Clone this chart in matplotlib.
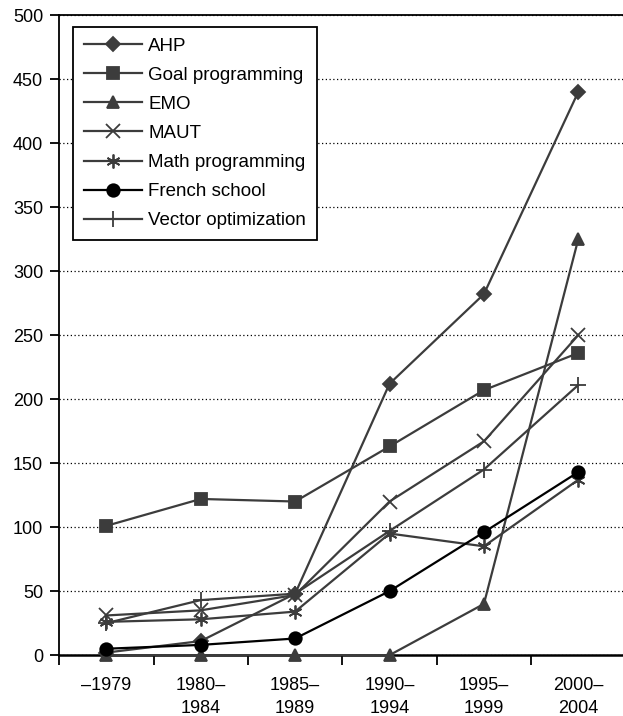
import numpy as np
import matplotlib.pyplot as plt

plt.rcParams['font.family'] = ['Liberation Sans', 'DejaVu Sans']

# Categories (periods)
periods = ['\u20131979', '1980\u2013\n1984', '1985\u2013\n1989', '1990\u2013\n1994', '1995\u2013\n1999', '2000\u2013\n2004']

# Series values
ahp = [2, 11, 48, 212, 282, 440]
goal = [101, 122, 120, 163, 207, 236]
emo = [0, 0, 0, 0, 40, 325]
maut = [31, 35, 47, 120, 167, 250]
math_prog = [26, 28, 34, 95, 85, 137]
french = [5, 8, 13, 50, 96, 143]
vector = [25, 43, 48, 97, 145, 211]

gray = '#3c3c3c'
series = [
    ('AHP', ahp, 'D', gray, 7, 'full'),
    ('Goal programming', goal, 's', gray, 8, 'full'),
    ('EMO', emo, '^', gray, 9, 'full'),
    ('MAUT', maut, 'x', gray, 10, 'full'),
    ('Math programming', math_prog, '*', gray, 10, 'asterisk'),
    ('French school', french, 'o', 'black', 9, 'full'),
    ('Vector optimization', vector, '+', gray, 12, 'full'),
]

fig = plt.figure(figsize=(6.23, 7.16), dpi=100)
ax = fig.add_axes([0.095, 0.085, 0.909, 0.894])

x = np.arange(len(periods))
for name, vals, mk, col, ms, kind in series:
    if kind == 'asterisk':
        mk = (6, 2, 0)
    ax.plot(x, vals, color=col, marker=mk, markersize=ms, linewidth=1.6,
            markeredgewidth=1.3, markerfacecolor=col, markeredgecolor=col,
            label=name, clip_on=False, zorder=3)

ax.set_ylim(0, 500)
ax.set_xlim(-0.5, 5.5)
ax.set_yticks(np.arange(0, 501, 50))
ax.yaxis.grid(True, linestyle=(0, (1, 2)), color='black', linewidth=0.9)
ax.set_axisbelow(True)

ax.set_xticks(np.arange(-0.5, 5.6, 1))
ax.set_xticklabels([])
ax.set_xticks(x, minor=True)
ax.set_xticklabels(periods, minor=True, linespacing=1.45)
ax.tick_params(axis='x', which='minor', length=0, pad=16, labelsize=13)
ax.tick_params(axis='x', which='major', length=7, width=1.3, direction='out')
ax.tick_params(axis='y', length=6.5, width=1.3, labelsize=13, pad=5)

ax.spines['right'].set_visible(False)
ax.spines['top'].set_linewidth(1.3)
ax.spines['left'].set_linewidth(1.3)
ax.spines['bottom'].set_linewidth(1.8)

leg = ax.legend(loc='upper left', bbox_to_anchor=(0.025, 0.981), borderaxespad=0,
                fontsize=13.5, handlelength=3.1, handletextpad=0.35,
                labelspacing=0.64, borderpad=0.55,
                fancybox=False, framealpha=1, edgecolor='black')
leg.get_frame().set_linewidth(1.3)

fig.savefig('out.png', dpi=100)
